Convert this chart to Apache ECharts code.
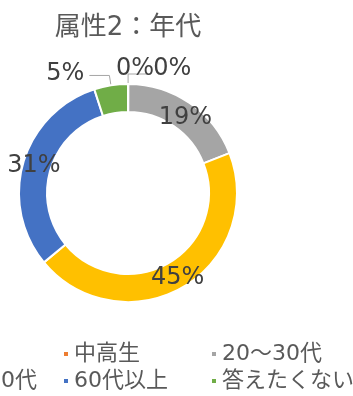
<!DOCTYPE html>
<html>
<head>
<meta charset="utf-8">
<script src="https://cdn.jsdelivr.net/npm/echarts@6/dist/echarts.min.js"></script>
<style>
  html, body { margin: 0; padding: 0; background: #ffffff; }
  #chart { width: 353px; height: 396px; }
</style>
</head>
<body>
<div id="chart"></div>
<script>
// Age-group breakdown (attribute 2), shares in percent
const categories = ['小学生', '中高生', '20～30代', '40～50代', '60代以上', '答えたくない'];
const shares = [0, 0, 19, 45, 31, 5];
const colors = ['#5B9BD5', '#ED7D31', '#A5A5A5', '#FFC000', '#4472C4', '#70AD47'];
const titleText = '属性2：年代';

const JP = '"DejaVu Sans", "Noto Sans CJK JP", sans-serif';

// small / zero slices get their label outside the ring with a leader line
const outsideIdx = [0, 1, 5];

const pieData = categories.map((name, i) => {
  const item = { name: name, value: shares[i], itemStyle: { color: colors[i] } };
  if (outsideIdx.indexOf(i) >= 0) {
    item.label = { position: 'outside' };
    item.labelLine = { show: i !== 1 };
  }
  return item;
});

// label nudges so the two zero labels sit side by side above the ring
const labelNudge = {
  0: { dx: -37, dy: -5 },
  1: { dx: 0, dy: -5 },
  2: { dx: 2, dy: 6 },
  5: { dx: 0, dy: -2 }
};

// legend laid out as a 3-column grid, one legend component per entry
const legendLeft = [-91, 57, 205, -80, 57, 205];
const rowTop = [338, 365];
const legends = categories.map((name, i) => ({
  data: [name],
  left: legendLeft[i],
  top: rowTop[Math.floor(i / 3)],
  icon: 'rect',
  itemWidth: 6,
  itemHeight: 6,
  textStyle: { color: '#595959', fontSize: 22, fontFamily: JP }
}));

const chart = echarts.init(document.getElementById('chart'), null, { renderer: 'canvas' });
chart.setOption({
  animation: false,
  color: colors,
  title: {
    text: titleText,
    left: 123,
    textAlign: 'center',
    top: 10,
    textStyle: { color: '#595959', fontSize: 26, fontWeight: 'normal', fontFamily: JP }
  },
  legend: legends,
  series: [{
    type: 'pie',
    center: [128, 193],
    radius: [81, 109],
    startAngle: 90,
    clockwise: true,
    minAngle: 0.1,
    avoidLabelOverlap: false,
    itemStyle: { borderColor: '#ffffff', borderWidth: 2 },
    label: {
      show: true,
      position: 'inside',
      formatter: '{c}%',
      color: '#404040',
      fontSize: 24,
      fontFamily: '"DejaVu Sans", sans-serif'
    },
    labelLine: {
      show: false,
      length: 10,
      length2: 20,
      lineStyle: { color: '#A6A6A6', width: 1 }
    },
    labelLayout: function (params) {
      return labelNudge[params.dataIndex] || {};
    },
    emphasis: { disabled: true },
    data: pieData
  }]
});
</script>
</body>
</html>
